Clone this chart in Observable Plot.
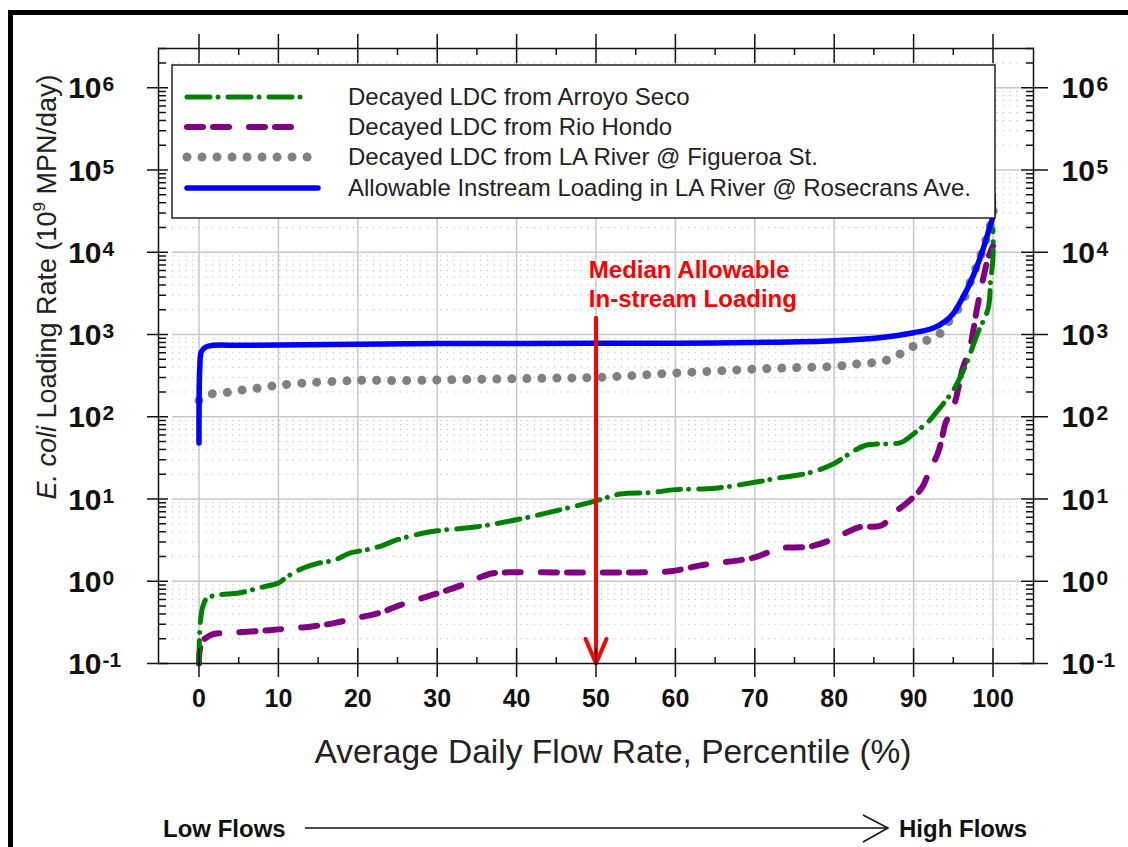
<!DOCTYPE html>
<html><head><meta charset="utf-8">
<script src="https://cdn.jsdelivr.net/npm/d3@7"></script>
<script src="https://cdn.jsdelivr.net/npm/@observablehq/plot@0.6"></script>
<style>
html,body{margin:0;padding:0;background:#fff;}
#chart{position:relative;width:1128px;height:847px;}
</style></head><body><div id="chart"></div>
<script>
// ---- Data (percentile of average daily flow, loading rate in 10^9 MPN/day) ----
const seriesNames = [
  "Decayed LDC from Arroyo Seco",
  "Decayed LDC from Rio Hondo",
  "Decayed LDC from LA River @ Figueroa St.",
  "Allowable Instream Loading in LA River @ Rosecrans Ave."
];
const arroyoP = [0,0.05,0.2,0.5,1,2.4,5,8,10,11,13,15,17,19,21,23,25,28,30,35,40,45,50,53,57,60,65,70,73,77,80,82,84,87,88.5,90.5,92,93,94,95,96.6,98,99.4,99.7,100,100];
const arroyoV = [0.1,0.19,0.34,0.5,0.62,0.68,0.72,0.85,0.95,1.12,1.43,1.65,1.8,2.2,2.4,2.7,3.2,3.8,4.1,4.6,5.6,7.2,9.5,11.5,12,13,13.5,16,18,21,27,36,45,47,49,68,90,118,155,210,430,1000,2100,4500,8500,19000];
const hondoP = [0,0.1,0.5,1.4,2,5,8,10,14,17,20,23,25,28,30,33,35,37,38.5,45,50,55,59.4,63,65,70,73,77,80,83,86,87.5,89.5,91,92,93,93.5,94,94.5,95.2,96.2,97,98,98.7,99.4,100];
const hondoV = [0.1,0.145,0.19,0.22,0.23,0.24,0.25,0.26,0.28,0.31,0.36,0.42,0.5,0.62,0.71,0.89,1.08,1.25,1.28,1.28,1.28,1.28,1.32,1.55,1.65,1.95,2.5,2.65,3.3,4.5,4.8,6.7,9.6,13.5,22,35,51,83,105,150,390,630,2100,4500,8500,12000];
const figueroaP = [0,1.4,3.4,5,7,8.7,10.6,14,18,21,25,30,35,40,45,50,55,60,65,70,75,80,83,86,88,90,92,93.7,94.7,96,97,98,99,100,100];
const figueroaV = [158,187,197,209,220,233,245,260,272,278,275,280,285,290,295,300,318,340,360,380,395,410,440,470,560,720,880,1100,1600,2300,4000,7000,13000,30000,42000];
const allowP = [0,0.1,0.3,0.8,1.6,5,10,20,30,40,50,60,70,80,86,90,92.5,94,95,96,97,98,99,99.5,100,100];
const allowV = [48,400,620,700,735,740,745,760,775,778,780,785,800,840,920,1050,1200,1450,1800,2600,4000,6800,13000,19000,28000,50000];
const medianP = 50, medianTop = 1600, medianBottom = 0.1;
const medianLabel = "Median Allowable\nIn-stream Loading";

// axis ticks
const xMajor = [0,10,20,30,40,50,60,70,80,90,100];
const xMinor = [5,15,25,35,45,55,65,75,85,95];
const yMajor = [0.1,1,10,100,1000,10000,100000,1000000];
const yExp = ["-1","0","1","2","3","4","5","6"];
const yMinor = [];
for (const d of yMajor) for (const m of [2,3,4,5,6,7,8,9]) { const v = d*m; if (v < 3.01e6) yMinor.push(v); }
const xTitle = "Average Daily Flow Rate, Percentile (%)";

const toRows = (P, V) => P.map((p, i) => ({p, v: V[i]}));
const colors = ["#008000", "#800080", "#808080", "#0000ff"];
const styles = [
  {strokeWidth: 5, strokeDasharray: "23 8 0.01 10", strokeLinecap: "round"},
  {strokeWidth: 6, strokeDasharray: "16 10 16 20", strokeLinecap: "round"},
  {strokeWidth: 9, strokeDasharray: "0.01 15", strokeLinecap: "round"},
  {strokeWidth: 5.5, strokeLinecap: "round"}
];
const series = [toRows(arroyoP, arroyoV), toRows(hondoP, hondoV), toRows(figueroaP, figueroaV), toRows(allowP, allowV)];
const yLabelIdx = yMajor.map((d, i) => i);
const tickStyle = {tickFormat: () => "", label: null, stroke: "#111", strokeWidth: 1.5};

const svgPlot = Plot.plot({
  width: 1128, height: 847,
  marginLeft: 158, marginTop: 48, marginRight: 95, marginBottom: 184,
  style: {fontFamily: "'Liberation Sans', Arial, sans-serif", background: "#fff", overflow: "visible"},
  x: {domain: [-5.1, 105.1]},
  y: {type: "log", domain: [0.1, 3e6]},
  marks: [
    // grid
    Plot.ruleY(yMinor, {stroke: "#b8b8b8", strokeWidth: 1, strokeDasharray: "1.2 5.5", insetLeft: 14, insetRight: 13}),
    Plot.ruleY(yMajor.slice(1), {stroke: "#c8c8c8", strokeWidth: 1.5, insetLeft: 14, insetRight: 13}),
    Plot.ruleX(xMajor, {stroke: "#c8c8c8", strokeWidth: 1.5, insetTop: 15, insetBottom: 0}),
    // data lines
    Plot.line(series[2], {x: "p", y: "v", stroke: colors[2], ...styles[2], curve: "catmull-rom"}),
    Plot.line(series[1], {x: "p", y: "v", stroke: colors[1], ...styles[1], curve: "catmull-rom"}),
    Plot.line(series[0], {x: "p", y: "v", stroke: colors[0], ...styles[0], curve: "catmull-rom"}),
    Plot.line(series[3], {x: "p", y: "v", stroke: colors[3], ...styles[3], curve: "catmull-rom"}),
    // median arrow + label
    Plot.arrow([{x: medianP, y1: medianTop, y2: medianBottom}], {x1: "x", x2: "x", y1: "y1", y2: "y2", stroke: "#ff0000", strokeWidth: 4, headLength: 10, headAngle: 46}),
    Plot.text([medianLabel], {x: 49.1, y: 4170, text: d => d, textAnchor: "start", fill: "#ff0000", fontWeight: "bold", fontSize: 24, lineHeight: 1.18}),
    // frame
    Plot.frame({stroke: "#111", strokeWidth: 1.5}),
    // x ticks bottom/top
    Plot.axisX(xMajor, {anchor: "bottom", tickSize: 14, ...tickStyle}),
    Plot.axisX(xMajor, {anchor: "bottom", tickSize: -15, ...tickStyle}),
    Plot.axisX(xMinor, {anchor: "bottom", tickSize: -6, ...tickStyle}),
    Plot.axisX(xMajor, {anchor: "top", tickSize: 15, ...tickStyle}),
    Plot.axisX(xMajor, {anchor: "top", tickSize: -14, ...tickStyle}),
    Plot.axisX(xMinor, {anchor: "top", tickSize: -6, ...tickStyle}),
    // y ticks left/right
    Plot.axisY(yMajor, {anchor: "left", tickSize: 11, ...tickStyle}),
    Plot.axisY(yMajor, {anchor: "left", tickSize: -10, ...tickStyle}),
    Plot.axisY(yMinor, {anchor: "left", tickSize: -8, ...tickStyle}),
    Plot.axisY(yMajor, {anchor: "right", tickSize: 14, ...tickStyle}),
    Plot.axisY(yMajor, {anchor: "right", tickSize: -13, ...tickStyle}),
    Plot.axisY(yMinor, {anchor: "right", tickSize: -8, ...tickStyle}),
    // tick labels
    Plot.text(xMajor, {x: d => d, frameAnchor: "bottom", dy: 43, text: d => String(d), fontSize: 25, fontWeight: "bold", fill: "#111"}),
    Plot.text(yLabelIdx, {y: i => yMajor[i], frameAnchor: "left", dx: -57, dy: 1, text: () => "10", textAnchor: "end", fontSize: 30, fontWeight: "bold", fill: "#111"}),
    Plot.text(yLabelIdx, {y: i => yMajor[i], frameAnchor: "left", dx: -56, dy: -3, text: i => yExp[i], textAnchor: "start", fontSize: 21, fontWeight: "bold", fill: "#111"}),
    Plot.text(yLabelIdx, {y: i => yMajor[i], frameAnchor: "right", dx: 28, dy: 1, text: () => "10", textAnchor: "start", fontSize: 30, fontWeight: "bold", fill: "#111"}),
    Plot.text(yLabelIdx, {y: i => yMajor[i], frameAnchor: "right", dx: 63, dy: -3, text: i => yExp[i], textAnchor: "start", fontSize: 21, fontWeight: "bold", fill: "#111"}),
    // x title
    Plot.text([xTitle], {frameAnchor: "bottom", dx: 17, dy: 99, text: d => d, fontSize: 33.5, fill: "#222"})
  ]
});

const svg = d3.select(svgPlot);
// Y title with italic and superscript
const yt = svg.append("text").attr("transform", "translate(56,287) rotate(-90)")
  .attr("text-anchor", "middle").attr("font-size", 27).attr("fill", "#222");
yt.append("tspan").attr("font-style", "italic").text("E. coli");
yt.append("tspan").text(" Loading Rate (10");
yt.append("tspan").attr("dy", -11).attr("font-size", 17).text("9");
yt.append("tspan").attr("dy", 11).text(" MPN/day)");

// Legend
const lg = svg.append("g");
lg.append("rect").attr("x", 172).attr("y", 65).attr("width", 823).attr("height", 153)
  .attr("fill", "#fff").attr("stroke", "#222").attr("stroke-width", 1.5);
const rowsY = [97, 127, 157, 188];
const sampleEnd = [308, 298, 308, 318];
seriesNames.forEach((name, i) => {
  const st = styles[i];
  lg.append("line").attr("x1", 187).attr("x2", sampleEnd[i]).attr("y1", rowsY[i]).attr("y2", rowsY[i])
    .attr("stroke", colors[i]).attr("stroke-width", st.strokeWidth)
    .attr("stroke-dasharray", st.strokeDasharray || null).attr("stroke-linecap", st.strokeLinecap);
  lg.append("text").attr("x", 348).attr("y", rowsY[i]).attr("dy", "0.35em").attr("text-anchor", "start")
    .attr("font-size", 24).attr("fill", "#222").text(name);
});

// Low / High flows annotation
svg.append("text").attr("x", 163).attr("y", 837).attr("text-anchor", "start").attr("font-size", 24).attr("font-weight", "bold").attr("fill", "#111").text("Low Flows");
svg.append("line").attr("x1", 305).attr("x2", 888).attr("y1", 828).attr("y2", 828).attr("stroke", "#111").attr("stroke-width", 1.5);
svg.append("path").attr("d", "M863,815L888,828L863,842").attr("fill", "none").attr("stroke", "#111").attr("stroke-width", 1.5);
svg.append("text").attr("x", 899).attr("y", 837).attr("text-anchor", "start").attr("font-size", 24).attr("font-weight", "bold").attr("fill", "#111").text("High Flows");

// outer border
svg.append("rect").attr("x", 8).attr("y", 10).attr("width", 1125).attr("height", 5).attr("fill", "#000");
svg.append("rect").attr("x", 8).attr("y", 10).attr("width", 5).attr("height", 840).attr("fill", "#000");

document.getElementById("chart").appendChild(svgPlot);
</script></body></html>
